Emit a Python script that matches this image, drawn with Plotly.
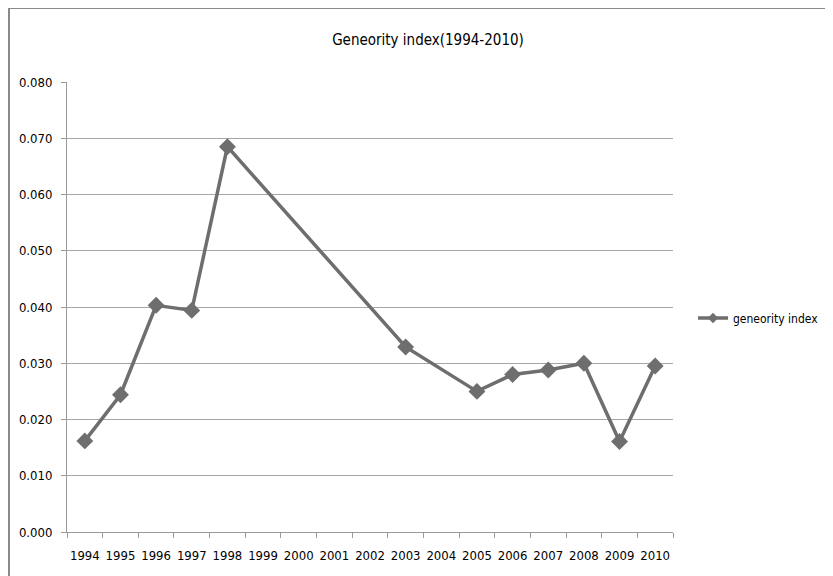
import plotly.graph_objects as go

years = ["1994", "1995", "1996", "1997", "1998", "1999", "2000", "2001", "2002",
         "2003", "2004", "2005", "2006", "2007", "2008", "2009", "2010"]
geneority = [0.0162, 0.0244, 0.0403, 0.0394, 0.0685, None, None, None, None,
             0.0329, None, 0.0250, 0.0280, 0.0288, 0.0300, 0.0161, 0.0295]
y_ticks = [0.0, 0.01, 0.02, 0.03, 0.04, 0.05, 0.06, 0.07, 0.08]

FONT = "DejaVu Sans Condensed, Liberation Sans Narrow, sans-serif"
GRAY = "#6e6e6e"

W, H = 825, 568
L, T, PW, PH = 59, 74, 606, 450

fig = go.Figure()
fig.add_trace(go.Scatter(
    x=years, y=geneority, mode="lines+markers", name="geneority index",
    connectgaps=True, showlegend=False,
    line=dict(color=GRAY, width=3.5),
    marker=dict(symbol="diamond", size=13, color=GRAY),
))
# legend entry (smaller diamond, as in the reference key)
fig.add_trace(go.Scatter(
    x=[years[0]], y=[None], mode="lines+markers", name="geneority index",
    line=dict(color=GRAY, width=3.5),
    marker=dict(symbol="diamond", size=8, color=GRAY),
))

fig.update_layout(
    width=W, height=H,
    margin=dict(l=L, r=W - L - PW, t=T, b=H - T - PH, autoexpand=False),
    paper_bgcolor="white", plot_bgcolor="white",
    font=dict(family=FONT, size=13, color="#000000"),
    title=dict(text="Geneority index(1994-2010)", x=(420 - L) / PW, xref="paper",
               xanchor="center", y=1 - 32 / H, yanchor="middle",
               font=dict(family=FONT, size=15, color="#000000")),
    showlegend=True,
    legend=dict(x=(685 - L) / PW, y=(T + PH - 310) / PH, xanchor="left", yanchor="middle",
                font=dict(family=FONT, size=12), bgcolor="rgba(0,0,0,0)",
                itemwidth=30, borderwidth=0),
    xaxis=dict(type="category", categoryorder="array", categoryarray=years,
               showgrid=False, showline=True, linecolor="#9a9a9a", linewidth=1,
               ticks="outside", tickson="boundaries", ticklen=5, tickcolor="#9a9a9a",
               tickangle=0, automargin=False, ticklabelstandoff=11,
               tickfont=dict(family=FONT, size=13), range=[-0.5, 16.5]),
    yaxis=dict(range=[0, 0.08], tickvals=y_ticks, tickformat=".3f",
               showgrid=True, gridcolor="#a6a6a6", gridwidth=1,
               showline=True, linecolor="#9a9a9a", linewidth=1,
               ticks="outside", ticklen=5, tickcolor="#9a9a9a", automargin=False,
               ticklabelstandoff=6,
               tickfont=dict(family=FONT, size=13), zeroline=False),
    shapes=[dict(type="rect", xref="paper", yref="paper",
                 x0=(1 - L) / PW, x1=(W + 20 - L) / PW,
                 y0=(T + PH - (H + 20)) / PH, y1=(T + PH - 0) / PH,
                 line=dict(color="#8a8a8a", width=2), fillcolor="rgba(0,0,0,0)",
                 layer="below")],
)

fig.write_html("out.html")
